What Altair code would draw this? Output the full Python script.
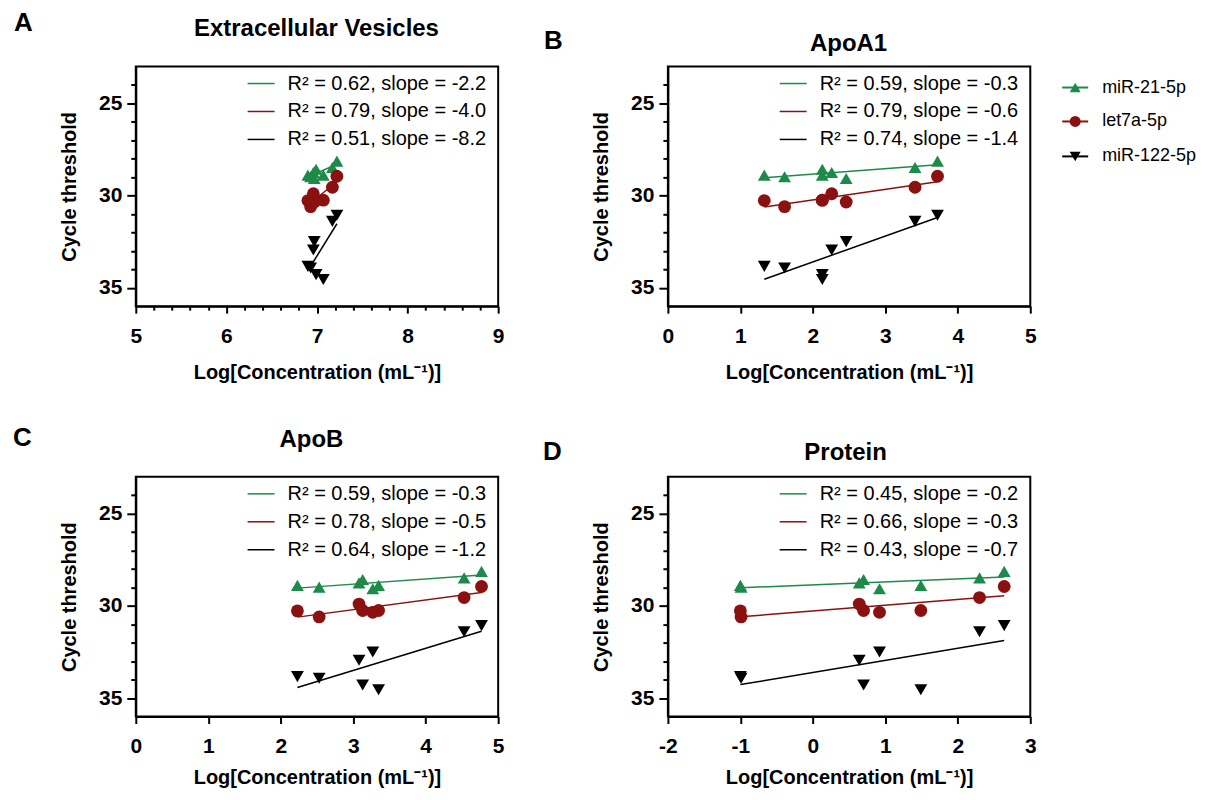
import altair as alt
import pandas as pd

FONT = "Liberation Sans"

series_names = ["miR-21-5p", "let7a-5p", "miR-122-5p"]
series_colors = ["#1e8a4a", "#8b1010", "#000000"]
series_shapes = ["triangle-up", "circle", "triangle-down"]

# Cycle threshold per sample (same eight samples in every panel)
ct_mir21 = [28.89, 28.98, 28.57, 28.89, 28.75, 29.07, 28.48, 28.13]
ct_let7a = [30.27, 30.60, 30.25, 30.25, 29.90, 30.35, 29.55, 28.95]
ct_mir122 = [33.84, 33.93, 34.29, 34.55, 32.95, 32.50, 31.40, 31.07]

# Log concentration per sample for each panel
conc_ev = [6.90, 6.93, 6.99, 7.07, 6.96, 6.97, 7.17, 7.22]
conc_apoa1 = [1.33, 1.61, 2.13, 2.13, 2.26, 2.46, 3.41, 3.72]
conc_apob = [2.23, 2.53, 3.13, 3.35, 3.08, 3.27, 4.53, 4.77]
conc_protein = [-1.00, -0.99, 0.70, 1.49, 0.64, 0.92, 2.30, 2.64]

panel_letters = ["A", "B", "C", "D"]
panel_titles = ["Extracellular Vesicles", "ApoA1", "ApoB", "Protein"]
x_domains = [[5, 9], [0, 5], [0, 5], [-2, 3]]
x_tick_values = [
    [round(5 + 0.2 * k, 1) for k in range(21)],
    [0, 1, 2, 3, 4, 5],
    [0, 1, 2, 3, 4, 5],
    [-2, -1, 0, 1, 2, 3],
]
y_domain = [23, 36]
y_tick_values = [24, 25, 26, 27, 28, 29, 30, 31, 32, 33, 34, 35]

fit_r2 = [["0.62", "0.79", "0.51"], ["0.59", "0.79", "0.74"],
          ["0.59", "0.78", "0.64"], ["0.45", "0.66", "0.43"]]
fit_slope = [["-2.2", "-4.0", "-8.2"], ["-0.3", "-0.6", "-1.4"],
             ["-0.3", "-0.5", "-1.2"], ["-0.2", "-0.3", "-0.7"]]

x_title = "Log[Concentration (mL\u207b\u00b9)]"
y_title = "Cycle threshold"

W, H = 363, 240

# per-panel annotation placement (pixels relative to plot area)
letter_pos = [(-122, -36), (-124, -18), (-123, -31), (-125, -17)]
title_pos = [(181, -31), (181, -16), (176, -30), (178, -17)]
x_title_y = [72, 72, 67, 67]
legend_rows = [17, 45, 73]


def one(text):
    return pd.DataFrame({"t": [text]})


def panel(i, conc):
    rows = []
    for name, cts in zip(series_names, [ct_mir21, ct_let7a, ct_mir122]):
        for xv, yv in zip(conc, cts):
            rows.append({"series": name, "conc": xv, "ct": yv})
    df = pd.DataFrame(rows)

    color = alt.Color("series:N", scale=alt.Scale(domain=series_names, range=series_colors), legend=None)
    shape = alt.Shape("series:N", scale=alt.Scale(domain=series_names, range=series_shapes), legend=None)
    major_x = "abs(datum.value - round(datum.value)) < 0.01"
    x_enc = alt.X(
        "conc:Q",
        scale=alt.Scale(domain=x_domains[i], nice=False, zero=False),
        axis=alt.Axis(
            values=x_tick_values[i],
            tickSize={"condition": {"test": major_x, "value": 7}, "value": 4},
            labelExpr=major_x + " ? '' + round(datum.value) : ''",
            labelPadding=12, labelFlush=False, labelOverlap=False,
            title=x_title, titleX=W / 2, titleY=x_title_y[i], titleBaseline="alphabetic", titleAlign="center",
        ),
    )
    y_enc = alt.Y(
        "ct:Q",
        scale=alt.Scale(domain=y_domain, reverse=True, nice=False, zero=False),
        axis=alt.Axis(
            values=y_tick_values,
            tickSize={"condition": {"test": "datum.value % 5 === 0", "value": 9}, "value": 5},
            labelExpr="datum.value % 5 === 0 ? '' + datum.value : ''",
            labelPadding=5, labelFlush=False, labelOverlap=False,
            title=y_title, titleX=-66, titleY=H / 2, titleBaseline="middle", titleAlign="center",
            titleAngle=270,
        ),
    )

    base = alt.Chart(df)
    fits = base.transform_regression("conc", "ct", groupby=["series"]).mark_line(strokeWidth=1.5).encode(
        x=x_enc, y=y_enc, color=color
    )
    pts = base.mark_point(filled=True, size=165, opacity=1).encode(x=x_enc, y=y_enc, color=color, shape=shape)

    layers = [fits, pts]

    lx, ly = letter_pos[i]
    layers.append(alt.Chart(one(panel_letters[i])).mark_text(
        align="left", baseline="alphabetic", font=FONT, fontSize=26, fontWeight="bold", color="black"
    ).encode(x=alt.value(lx), y=alt.value(ly), text="t:N"))
    tx, ty = title_pos[i]
    layers.append(alt.Chart(one(panel_titles[i])).mark_text(
        align="center", baseline="alphabetic", font=FONT, fontSize=24, fontWeight="bold", color="black"
    ).encode(x=alt.value(tx), y=alt.value(ty), text="t:N"))

    for k in range(3):
        label = f"R\u00b2 = {fit_r2[i][k]}, slope = {fit_slope[i][k]}"
        layers.append(alt.Chart(one(label)).mark_rule(color=series_colors[k], strokeWidth=1.5).encode(
            x=alt.value(112), x2=alt.value(139), y=alt.value(legend_rows[k])))
        layers.append(alt.Chart(one(label)).mark_text(
            align="left", baseline="middle", font=FONT, fontSize=20, color="black"
        ).encode(x=alt.value(152), y=alt.value(legend_rows[k]), text="t:N"))

    if i == 1:
        rrows = [21, 55, 90]
        for k in range(3):
            d = one(series_names[k])
            layers.append(alt.Chart(d).mark_rule(color=series_colors[k], strokeWidth=2).encode(
                x=alt.value(395), x2=alt.value(421), y=alt.value(rrows[k])))
            layers.append(alt.Chart(d).mark_point(
                shape=series_shapes[k], filled=True, size=120, opacity=1, color=series_colors[k]
            ).encode(x=alt.value(408), y=alt.value(rrows[k])))
            layers.append(alt.Chart(d).mark_text(
                align="left", baseline="middle", font=FONT, fontSize=18, color="black"
            ).encode(x=alt.value(435), y=alt.value(rrows[k]), text="t:N"))

    return alt.layer(*layers).properties(width=W, height=H)


pA = panel(0, conc_ev)
pB = panel(1, conc_apoa1)
pC = panel(2, conc_apob)
pD = panel(3, conc_protein)

chart = alt.concat(
    pA, pB, pC, pD, columns=2, spacing={"row": 171, "column": 170}, bounds="flush"
).properties(
    padding={"left": 4, "top": 0, "right": 0, "bottom": 0}
).configure_view(
    stroke="black", strokeWidth=2
).configure_axis(
    domainColor="black", domainWidth=2, tickColor="black", tickWidth=2, grid=False,
    labelFont=FONT, labelFontSize=21, labelFontWeight="bold", labelColor="black",
    titleFont=FONT, titleFontSize=20, titleFontWeight="bold", titleColor="black",
)

chart.save("out.html", embed_options={"renderer": "svg", "actions": False})
